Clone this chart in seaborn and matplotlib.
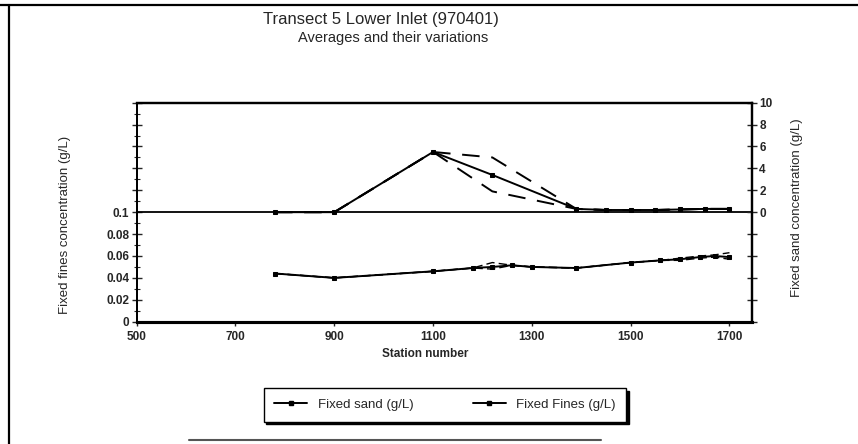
import numpy as np
import pandas as pd
import matplotlib
matplotlib.use("Agg")
import matplotlib.pyplot as plt
from matplotlib.lines import Line2D
import seaborn as sns

# ---- data ----
sand_station = [780, 900, 1100, 1220, 1390, 1450, 1500, 1550, 1600, 1650, 1700]
sand_mean = [0.0, 0.0, 5.5, 3.4, 0.3, 0.2, 0.2, 0.2, 0.25, 0.3, 0.3]
sand_upper = [0.0, 0.0, 5.5, 5.0, 0.3, 0.2, 0.2, 0.2, 0.25, 0.3, 0.3]
sand_lower = [0.0, 0.0, 5.5, 1.9, 0.3, 0.2, 0.2, 0.2, 0.25, 0.3, 0.3]

fines_station = [780, 900, 1100, 1180, 1220, 1260, 1300, 1390, 1500, 1560, 1600, 1640, 1670, 1700]
fines_mean = [0.044, 0.040, 0.046, 0.049, 0.050, 0.0515, 0.050, 0.049, 0.054, 0.056, 0.057, 0.059, 0.060, 0.059]
fines_upper = [0.044, 0.040, 0.046, 0.049, 0.054, 0.0515, 0.050, 0.049, 0.054, 0.056, 0.058, 0.060, 0.061, 0.063]
fines_lower = [0.044, 0.040, 0.046, 0.049, 0.048, 0.0515, 0.050, 0.049, 0.054, 0.056, 0.056, 0.058, 0.059, 0.057]

x_ticks = [500, 700, 900, 1100, 1300, 1500, 1700]
fines_tick_labels = ["0", "0.02", "0.04", "0.06", "0.08", "0.1"]
sand_tick_labels = ["0", "2", "4", "6", "8", "10"]

sand_df = pd.DataFrame({"station": sand_station, "mean": sand_mean,
                        "upper": sand_upper, "lower": sand_lower})
fines_df = pd.DataFrame({"station": fines_station, "mean": fines_mean,
                         "upper": fines_upper, "lower": fines_lower})

sns.set_style("ticks")
plt.rcParams["font.family"] = ["Liberation Sans", "DejaVu Sans"]

fig = plt.figure(figsize=(8.58, 4.44), dpi=100)
ax = fig.add_axes([0.1593, 0.2755, 0.8761 - 0.1593, 0.7687 - 0.2755])
ax2 = ax.twinx()

# fines (left axis, lower half)
sns.lineplot(data=fines_df, x="station", y="mean", ax=ax, color="black", lw=1.4,
             marker="s", markersize=3.5, markeredgecolor="black")
sns.lineplot(data=fines_df, x="station", y="upper", ax=ax, color="black", lw=1.0,
             linestyle=(0, (6, 3)))
sns.lineplot(data=fines_df, x="station", y="lower", ax=ax, color="black", lw=1.0,
             linestyle=(0, (6, 3)))

# sand (right axis, upper half)
sns.lineplot(data=sand_df, x="station", y="mean", ax=ax2, color="black", lw=1.4,
             marker="s", markersize=3.5, markeredgecolor="black")
sns.lineplot(data=sand_df, x="station", y="upper", ax=ax2, color="black", lw=1.4,
             linestyle=(0, (9, 6)))
sns.lineplot(data=sand_df, x="station", y="lower", ax=ax2, color="black", lw=1.4,
             linestyle=(0, (9, 6)))

ax.axhline(0.1, color="black", lw=1.3, zorder=1)

ax.set_xlim(500, 1745)
ax.set_ylim(0, 0.2)
ax2.set_ylim(-10, 10)

ax.set_xticks(x_ticks)
ax.set_xticklabels([str(v) for v in x_ticks], fontsize=8.5, fontweight="bold")
ax.set_yticks(np.arange(0, 0.201, 0.02))
ax.set_yticklabels(fines_tick_labels + [""] * 5, fontsize=8.5, fontweight="bold")
ax.set_yticks(np.arange(0, 0.201, 0.01), minor=True)
ax2.set_yticks(np.arange(-10, 10.1, 2))
ax2.set_yticklabels([""] * 5 + sand_tick_labels, fontsize=8.5, fontweight="bold")

ax.tick_params(axis="y", which="major", direction="inout", length=7, width=1, pad=2)
ax.tick_params(axis="y", which="minor", direction="inout", length=4, width=0.8)
ax.tick_params(axis="x", which="major", direction="out", length=3, width=1, pad=4)
ax2.tick_params(axis="y", which="major", direction="inout", length=7, width=1, pad=2)

ax.set_xlabel("Station number", fontsize=8.5, fontweight="bold")
ax.xaxis.set_label_coords(0.469, -0.12)
ax.xaxis.label.set_va("top")
ax.set_ylabel("")
ax2.set_ylabel("")
fig.text(65 / 858, 1 - 225 / 444, "Fixed fines concentration (g/L)", rotation=90,
         ha="center", va="center", fontsize=9.5)
fig.text(797 / 858, 1 - 208 / 444, "Fixed sand concentration (g/L)", rotation=90,
         ha="center", va="center", fontsize=9.5)

for a in (ax, ax2):
    for s in a.spines.values():
        s.set_visible(True)
        s.set_color("black")
    a.spines["top"].set_linewidth(1.6)
    a.spines["bottom"].set_linewidth(2.2)
    a.spines["left"].set_linewidth(1.3)
    a.spines["right"].set_linewidth(1.6)

fig.text(0.4437, 0.955, "Transect 5 Lower Inlet (970401)", ha="center", va="center", fontsize=12)
fig.text(0.458, 0.9155, "Averages and their variations", ha="center", va="center", fontsize=10.5)

handles = [Line2D([0], [0], color="black", lw=1.4, marker="s", markersize=3.5),
           Line2D([0], [0], color="black", lw=1.4, marker="s", markersize=3.5)]
leg = fig.legend(handles, ["Fixed sand (g/L)", "Fixed Fines (g/L)"], ncol=2,
                 loc="center", bbox_to_anchor=(0.5187, 0.088), fontsize=9.5,
                 frameon=True, fancybox=False, edgecolor="black", handlelength=2.5,
                 columnspacing=4.5, borderpad=0.8,
                 shadow={"color": "black", "alpha": 1, "ox": 2, "oy": -2})
leg.get_frame().set_linewidth(1.0)

# page frame lines from the scanned page
fig.add_artist(Line2D([0.0, 1.0], [0.988, 0.988], color="black", lw=1.6, transform=fig.transFigure))
fig.add_artist(Line2D([0.011, 0.011], [0.988, 0.0], color="black", lw=1.6, transform=fig.transFigure))
fig.add_artist(Line2D([0.22, 0.70], [0.01, 0.01], color="#555555", lw=1.5, transform=fig.transFigure))

fig.savefig("out.png", dpi=100)
